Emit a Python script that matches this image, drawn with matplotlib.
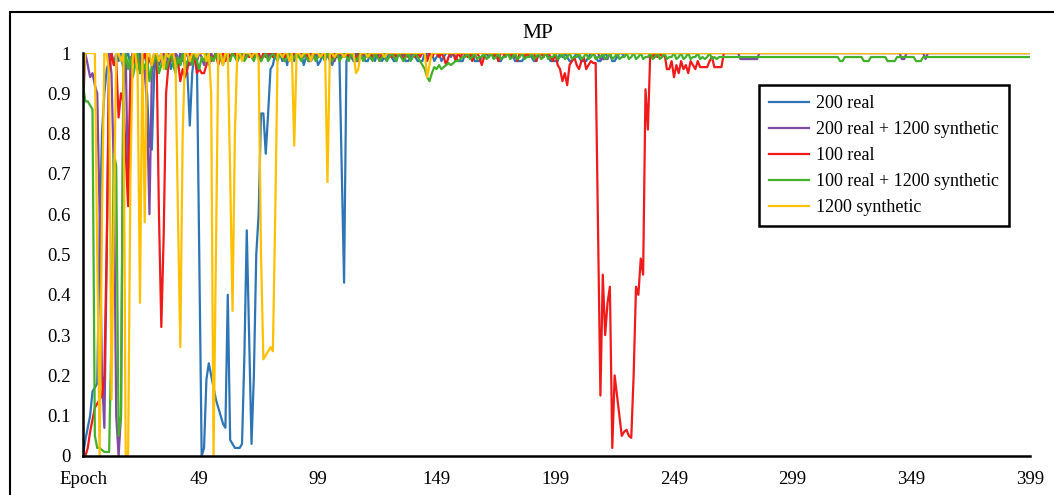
"""MP curves per training set, re-drawn from the Excel chart."""
import matplotlib
matplotlib.use("Agg")
import matplotlib.pyplot as plt
from matplotlib.patches import Rectangle
import numpy as np

# ---- data (one value per epoch 0..399) ----
labels = ["200 real", "200 real + 1200 synthetic", "100 real",
          "100 real + 1200 synthetic", "1200 synthetic"]

blue_200_real = (
    [0.0, 0.04, 0.07, 0.1, 0.16, 0.17, 0.18, 0.55, 0.8, 0.9, 0.96, 0.98, 1.0]
    + [0.97, 1.0, 0.98, 1.0, 0.96, 0.99, 1.0, 0.97, 1.0, 0.98, 0.99, 1.0, 0.97, 0.95]
    + [0.9, 0.77, 0.76, 0.95, 1.0]
    + [0.98, 1.0, 0.97, 0.99, 1.0, 0.96, 0.98, 1.0, 0.99, 0.97, 1.0, 0.98, 0.95]
    + [0.82, 0.95, 1.0, 0.98, 0.5]
    + [0.0, 0.02, 0.19, 0.23, 0.2, 0.17, 0.14, 0.12, 0.1, 0.08, 0.07]
    + [0.4, 0.04, 0.03, 0.02, 0.02, 0.02, 0.03, 0.25, 0.56, 0.3, 0.03, 0.2, 0.5,
       0.6, 0.85, 0.85, 0.75, 0.85, 0.96, 0.97, 1.0]
    + [0.99, 1.0, 0.98, 1.0, 0.97, 1.0, 0.99, 0.98, 1.0, 0.99, 1.0, 0.97, 0.99,
       1.0, 0.98, 0.99, 1.0, 0.97, 0.98, 1.0, 0.99, 1.0, 0.98, 0.97, 0.99, 1.0]
    + [1.0, 0.71, 0.43, 0.98, 1.0]
    + [0.99, 0.98, 1.0, 0.98, 0.99, 1.0, 0.98, 0.98, 1.0, 0.99, 0.98, 1.0, 1.0,
       0.98, 0.99, 0.98, 1.0, 0.99, 0.98, 0.98, 1.0, 0.99, 1.0, 0.98, 0.98, 0.99,
       1.0, 0.99, 0.98, 0.98, 0.98, 1.0, 0.99, 1.0, 1.0, 0.98, 0.99, 1.0, 0.98,
       0.99, 1.0, 1.0, 0.99, 1.0, 0.99, 0.98, 0.98, 0.98, 1.0, 1.0, 0.99, 1.0,
       0.98, 0.98, 0.98, 0.99, 1.0, 1.0, 0.99, 1.0, 0.99, 1.0, 0.98, 0.98, 0.99,
       1.0, 1.0, 0.99, 1.0, 0.98, 0.98, 0.98, 0.98, 0.99, 1.0, 1.0, 0.99, 0.98,
       0.98, 1.0, 1.0, 0.99, 1.0, 0.99, 0.98, 0.98, 0.98, 0.98, 1.0, 0.99, 1.0,
       0.99, 0.98, 0.98, 0.99, 1.0, 0.99, 0.98, 0.98, 0.98, 0.99, 1.0, 1.0, 0.99,
       0.98, 0.98, 0.99, 1.0, 0.99, 1.0, 0.98, 0.98, 0.99, 1.0, 1.0, 0.99, 1.0, 1.0]
    + [1.0] * 169
)

purple_200_mix = (
    [0.87, 1.0, 0.97, 0.94, 0.95, 0.92, 0.9, 0.6, 0.2, 0.07, 0.5, 1.0, 0.95,
     0.7, 0.1, 0.0, 0.1, 0.9, 1.0]
    + [0.65, 0.98, 1.0, 0.97, 1.0, 0.98, 0.95, 0.97]
    + [0.85, 0.6, 0.95]
    + [0.98, 1.0, 0.97, 0.99, 1.0, 0.96, 1.0, 0.98, 0.99, 1.0, 0.97, 1.0, 0.98,
       0.99, 1.0, 0.97, 0.99, 1.0, 0.98, 1.0, 0.99, 0.97, 1.0, 0.99, 1.0, 0.98,
       1.0, 0.99, 1.0, 0.98, 1.0]
    + [1.0, 0.99, 1.0, 1.0, 0.98, 1.0, 1.0, 0.99, 1.0, 1.0] * 3
    + [1.0, 1.0, 0.99, 1.0, 0.98, 0.98, 1.0, 1.0, 0.99, 1.0] * 3
    + [1.0] * 97
    + [0.985] * 4
    + [1.0] * 55
    + [0.985] * 8
    + [1.0] * 60
    + [0.985, 0.985]
    + [1.0] * 8
    + [0.985]
    + [1.0] * 44
)

red_100_real = (
    [0.0, 0.0, 0.02, 0.06, 0.09, 0.12, 0.13, 0.14, 0.15, 0.2, 0.52, 0.95, 1.0]
    + [0.97, 0.98, 0.84, 0.9, 0.88, 0.75, 0.62, 0.9, 1.0]
    + [0.97, 0.99, 0.95, 0.98, 1.0, 0.96, 0.99, 0.97, 1.0]
    + [1.0, 0.6, 0.32, 0.55, 0.9, 0.97]
    + [0.99, 1.0, 0.97, 0.98, 0.93, 0.96, 0.94, 0.96, 1.0, 0.98, 0.99, 0.95,
       0.96, 0.95, 0.95, 0.97, 1.0, 0.98, 0.99, 1.0, 0.97, 0.99, 1.0, 0.98]
    + [1.0, 0.99, 1.0, 1.0, 0.98, 1.0, 0.99, 1.0, 1.0, 0.99] * 9
    + [1.0, 0.99, 0.97, 0.99, 1.0, 1.0, 0.98, 1.0, 0.99, 1.0, 1.0, 0.99, 1.0,
       0.98, 1.0, 1.0, 0.99, 0.97, 0.99, 1.0, 1.0, 1.0, 0.99, 1.0, 0.98, 1.0,
       1.0, 0.99, 1.0, 1.0, 0.99, 1.0, 0.98, 1.0, 1.0, 0.99, 1.0, 0.99, 1.0,
       1.0, 0.98, 1.0, 1.0, 0.99, 1.0, 1.0, 0.99, 0.98, 1.0]
    + [0.97, 0.96, 0.93, 0.95, 0.92, 0.97, 0.98, 0.99, 0.97, 0.96, 0.98, 0.99,
       0.96, 0.97, 0.98, 0.975]
    + [0.975, 0.56, 0.15, 0.45, 0.30, 0.38, 0.42, 0.02, 0.2, 0.15, 0.1, 0.05,
       0.06, 0.065, 0.05, 0.045, 0.2, 0.42, 0.4, 0.49, 0.45, 0.91, 0.81, 1.0]
    + [0.99, 1.0, 0.99, 1.0, 0.99, 1.0, 0.96, 0.96, 0.98, 0.94, 0.97, 0.95,
       0.98, 0.96, 0.97, 0.95, 0.98, 0.97, 0.96, 0.98, 0.965, 0.965, 0.965,
       0.965, 0.98, 0.99, 0.965, 0.965, 0.965, 0.965, 1.0]
    + [1.0] * 129
)

green_100_mix = (
    [0.92, 0.88, 0.88, 0.87, 0.86, 0.05, 0.02, 0.02, 0.015, 0.01, 0.01, 0.01,
     0.3, 0.75, 0.72, 0.05, 0.1, 0.95, 1.0]
    + [0.96, 0.99, 0.94, 0.97, 1.0, 0.95, 0.98, 0.96, 0.99, 0.93, 0.97, 0.98,
       1.0, 0.95, 0.97, 0.99, 0.96, 0.98, 1.0, 0.97, 0.95, 0.99, 0.97, 1.0,
       0.96, 0.98, 0.99, 0.97, 1.0, 0.98, 0.96, 0.99, 0.98, 1.0, 0.97, 0.99,
       0.98, 1.0, 0.98, 0.99, 0.97, 1.0]
    + [0.99, 0.98, 1.0, 0.99, 0.98, 0.99, 1.0, 0.98, 0.99, 1.0] * 8
    + [0.99, 0.98, 0.97, 0.96, 0.94, 0.93, 0.95, 0.965, 0.96, 0.97, 0.96,
       0.965, 0.97, 0.975, 0.97, 0.975, 0.98, 0.98, 0.985, 0.99]
    + [0.99, 1.0, 0.985, 0.99, 1.0, 0.985, 0.99, 0.99, 1.0, 0.985] * 10
    + [0.99, 0.985, 0.99, 1.0, 0.985, 0.99, 0.985, 0.99, 0.99]
    + [0.99] * 49
    + [0.98, 0.98]
    + [0.99] * 8
    + [0.98, 0.98, 0.98]
    + [0.99] * 7
    + [0.98, 0.98, 0.98, 0.98]
    + [0.99] * 8
    + [0.98, 0.98, 0.98]
    + [0.99] * 46
)

yellow_1200_syn = (
    [0.9, 1.0, 1.0, 1.0, 1.0, 1.0, 0.5, 0.0, 0.6, 1.0, 1.0, 0.95, 0.14, 0.6,
     1.0, 1.0, 0.98, 1.0, 0.0, 0.0, 0.7, 1.0, 1.0, 0.95, 0.38, 1.0, 0.58, 1.0,
     1.0, 0.97, 1.0]
    + [1.0, 0.98, 1.0, 0.96, 1.0, 0.99, 1.0, 1.0, 0.97, 0.6, 0.27, 0.8, 1.0,
       1.0, 0.98, 1.0, 1.0, 0.99, 1.0, 1.0, 1.0, 0.98, 1.0, 0.9, 0.0, 0.5, 1.0,
       1.0, 0.97, 1.0]
    + [1.0, 0.7, 0.36, 0.8, 1.0, 1.0, 0.98, 1.0, 1.0, 1.0, 0.99, 1.0, 1.0,
       0.98, 0.5, 0.24, 0.25, 0.26, 0.27, 0.26, 0.6, 1.0, 1.0, 0.99, 1.0, 1.0,
       0.98, 1.0, 0.77, 1.0, 1.0, 0.99, 1.0, 1.0, 1.0, 0.98, 1.0, 1.0, 1.0, 0.99]
    + [1.0, 1.0, 0.68, 1.0, 1.0, 0.99, 1.0, 1.0, 1.0, 0.99, 1.0, 1.0, 1.0,
       1.0, 0.95, 0.96, 1.0, 1.0, 1.0, 0.99, 1.0, 1.0, 1.0, 1.0, 1.0, 1.0, 0.99,
       1.0, 1.0, 1.0, 1.0, 1.0, 1.0, 1.0, 1.0, 1.0, 1.0, 1.0, 1.0, 1.0, 1.0,
       1.0, 1.0, 1.0, 0.94, 0.97, 1.0, 1.0, 1.0, 1.0]
    + [1.0] * 249
)

series = [blue_200_real, purple_200_mix, red_100_real, green_100_mix, yellow_1200_syn]
colors = ["#2e75b6", "#7e49a8", "#f01a1a", "#43b02a", "#ffc000"]

tick_pos = [0, 49, 99, 149, 199, 249, 299, 349, 399]
tick_labels = ["Epoch", "49", "99", "149", "199", "249", "299", "349", "399"]

for s in series:
    assert len(s) == 400, len(s)

plt.rcParams["font.family"] = ["Liberation Serif", "DejaVu Serif"]

W, H = 1054, 495
fig = plt.figure(figsize=(W / 100, H / 100), dpi=100)
ax = fig.add_axes([83 / W, 1 - 456 / H, (1030 - 83) / W, (456 - 53) / H])

epochs = np.arange(400)
for s, lab, c in zip(series, labels, colors):
    ax.plot(epochs, s, color=c, lw=1.6, label=lab)

ax.set_xlim(0, 399)
ax.set_ylim(0, 1)
ax.set_yticks(np.arange(0, 1.01, 0.1))
ax.set_yticklabels(["0", "0.1", "0.2", "0.3", "0.4", "0.5", "0.6", "0.7", "0.8", "0.9", "1"])
ax.set_xticks(tick_pos)
ax.set_xticklabels(tick_labels)
ax.tick_params(axis="y", length=0, pad=9, labelsize=13.5)
ax.tick_params(axis="x", length=0, pad=11, labelsize=13.5)
for sp in ["top", "right"]:
    ax.spines[sp].set_visible(False)
for sp in ["left", "bottom"]:
    ax.spines[sp].set_linewidth(1.8)

fig.text(538 / W, 1 - 33 / H, "MP", ha="center", va="center", fontsize=15.5)

leg = ax.legend(loc="upper left", bbox_to_anchor=(759 / W, 1 - 85 / H),
                bbox_transform=fig.transFigure, fontsize=13, fancybox=False,
                framealpha=1, edgecolor="black", handlelength=2.2,
                handletextpad=0.4, labelspacing=0.5, borderpad=0.55,
                borderaxespad=0)
leg.get_frame().set_linewidth(1.8)
for h in leg.get_lines():
    h.set_linewidth(1.6)

# outer chart border (only top/left edges fall inside the image)
fig.patches.append(Rectangle((10 / W, -0.1), 1.2, 1 - 12 / H + 0.1,
                             transform=fig.transFigure, fill=False,
                             edgecolor="black", lw=1.5))

fig.savefig("out.png", dpi=100)
